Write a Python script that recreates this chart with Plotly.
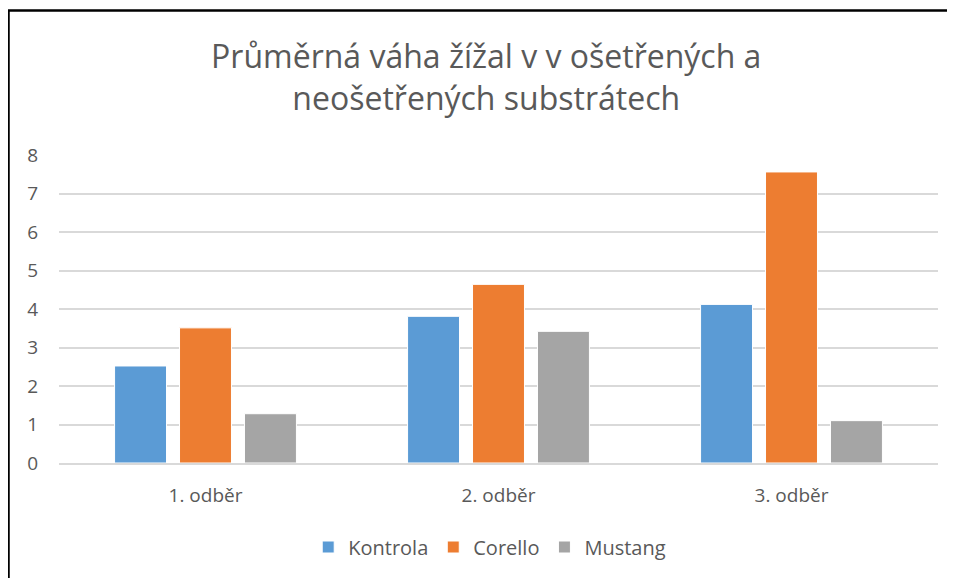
import plotly.graph_objects as go

categories = ["1. odběr", "2. odběr", "3. odběr"]
kontrola = [2.52, 3.81, 4.12]
corello = [3.51, 4.64, 7.56]
mustang = [1.28, 3.42, 1.10]
series_names = ["Kontrola", "Corello", "Mustang"]
colors = ["#5B9BD5", "#ED7D31", "#A5A5A5"]
y_ticks = [0, 1, 2, 3, 4, 5, 6, 7, 8]

FONT = "Open Sans"
TXT = "#595959"

fig = go.Figure()
for name, vals, col in zip(series_names, [kontrola, corello, mustang], colors):
    fig.add_trace(go.Bar(x=categories, y=vals, name=name,
                         marker=dict(color=col, line=dict(color="white", width=1))))

# page is offset by 8px (body margin); figure coordinates = screen - 8
OFF = 8
W, H = 947, 570
L, R, T, B = 59 - OFF, 17, 155 - OFF, 115
pw = W - L - R
ph = H - T - B

def px2x(px):
    return (px - OFF - L) / pw

def py2y(py):
    return (H - B - (py - OFF)) / ph

fig.update_layout(
    width=W, height=H,
    margin=dict(l=L, r=R, t=T, b=B),
    paper_bgcolor="white", plot_bgcolor="white",
    barmode="group", bargap=0.335, bargroupgap=0.2,
    font=dict(family=FONT, color=TXT, size=19),
    title=dict(text="Průměrná váha žížal v v ošetřených a<br>neošetřených substrátech",
               x=0.505, xanchor="center", y=1 - (68 - OFF) / H, yanchor="top",
               font=dict(family=FONT, size=32, color=TXT)),
    xaxis=dict(showgrid=False, showline=True, linecolor="#D9D9D9", linewidth=1.5,
               ticks="", tickfont=dict(size=19, color=TXT), ticklabelstandoff=14),
    yaxis=dict(range=[0, 8], tickvals=y_ticks, showgrid=True, gridcolor="#D9D9D9",
               gridwidth=1.5, zeroline=False, showline=False, ticks="",
               tickfont=dict(size=19, color=TXT), ticklabelstandoff=20),
    legend=dict(orientation="h", x=0.49, xanchor="center", y=py2y(547), yanchor="middle",
                font=dict(size=20, color=TXT), itemwidth=30, traceorder="normal"),
    showlegend=True,
)

fig.add_shape(type="rect", xref="paper", yref="paper",
              x0=px2x(8.5), x1=px2x(990), y0=py2y(620), y1=py2y(10.5),
              line=dict(color="black", width=2.5), fillcolor="rgba(0,0,0,0)", layer="above")

fig.write_html("out.html")
